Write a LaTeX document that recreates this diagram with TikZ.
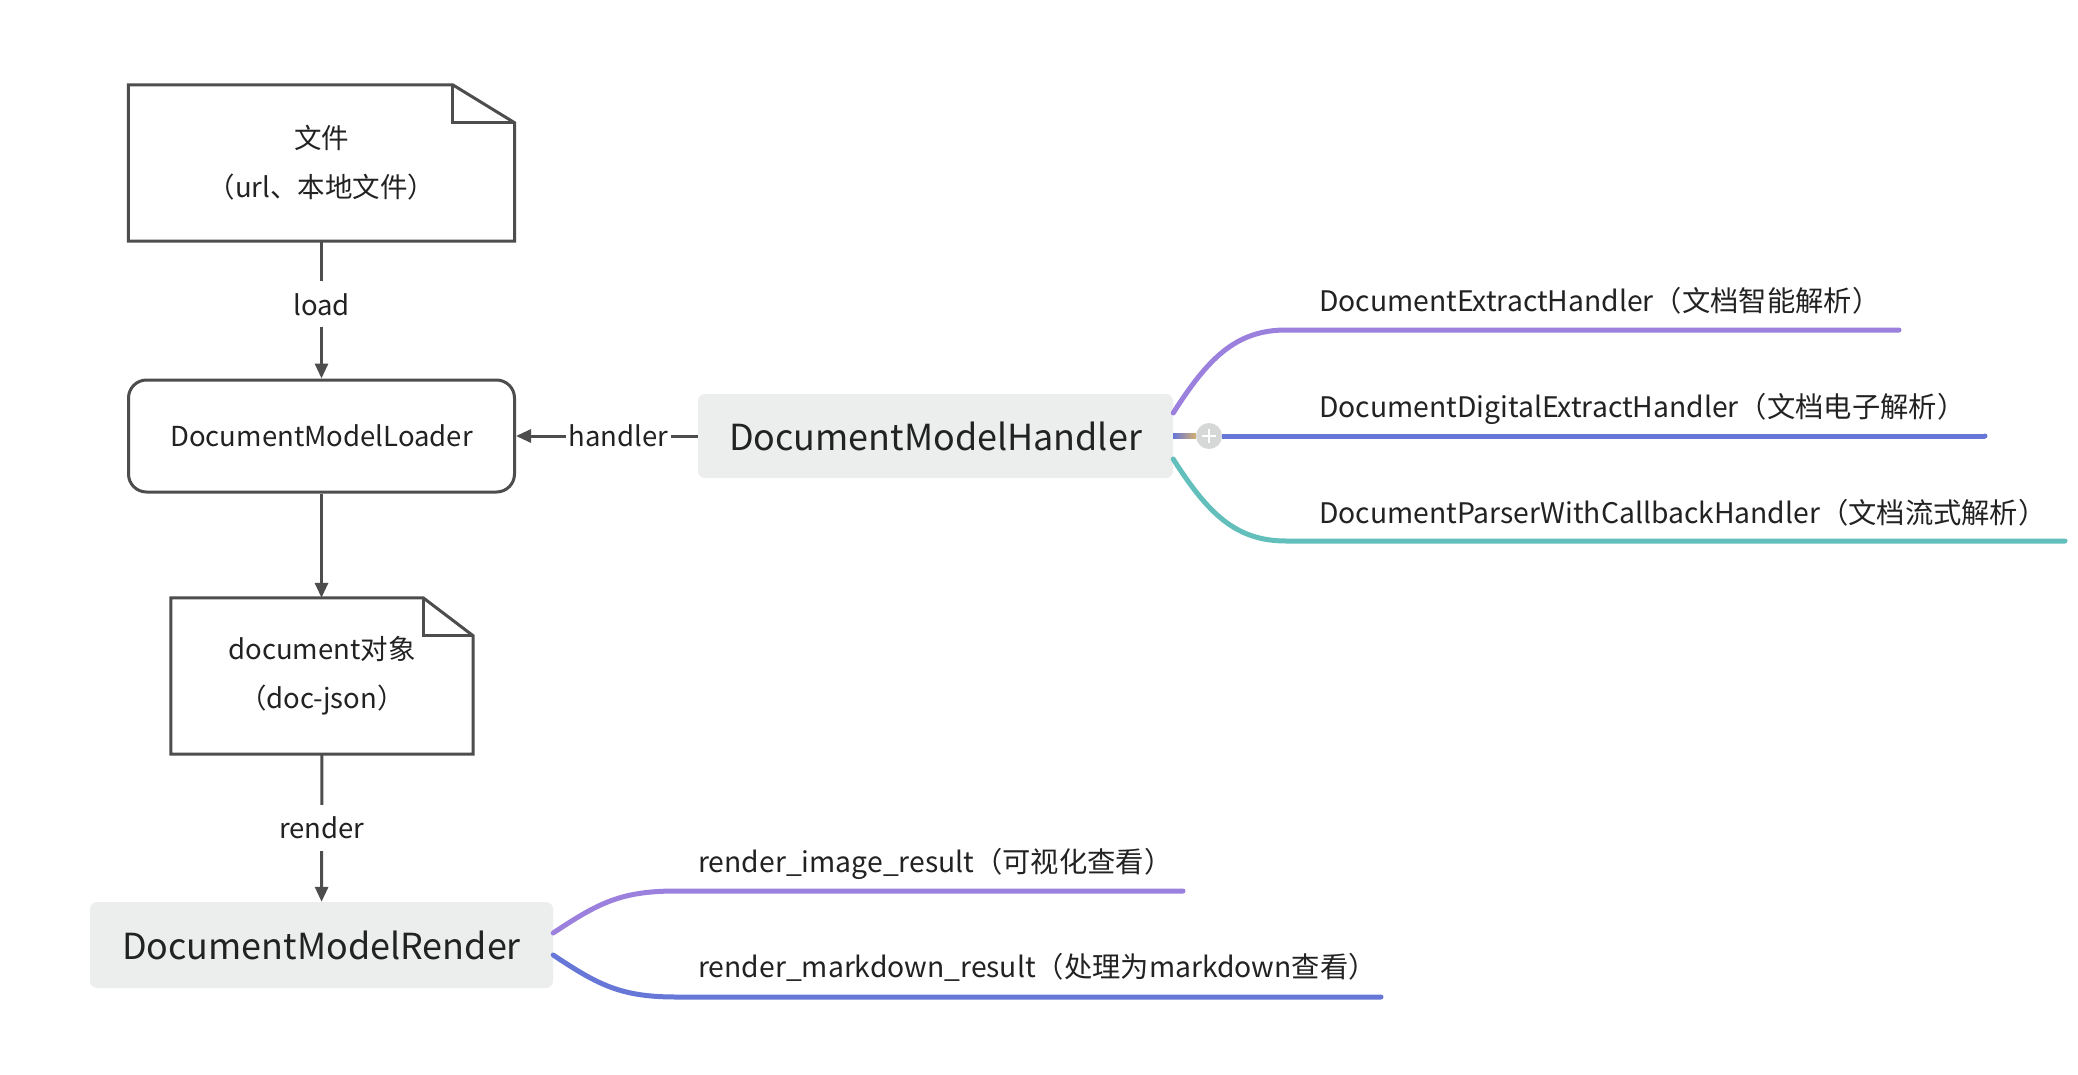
\documentclass[tikz,border=0pt]{standalone}
\usepackage{fontspec}
\setmainfont{Noto Sans CJK SC}
\usetikzlibrary{arrows.meta,calc}
\definecolor{lineg}{HTML}{4D4D4D}
\definecolor{boxg}{HTML}{ECEEED}
\definecolor{cpur}{HTML}{9B80DD}
\definecolor{cblu}{HTML}{6677D8}
\definecolor{cteal}{HTML}{62BFBB}
\definecolor{ctan}{HTML}{D4AE72}
\definecolor{plusg}{HTML}{D5D8D7}
\definecolor{txtc}{HTML}{222222}
\begin{document}
\begin{tikzpicture}[x=1pt,y=-1pt,
  txt/.style={font=\fontsize{27.5}{49}\selectfont, text=txtc},
  brtxt/.style={font=\fontsize{28.3}{34}\selectfont, text=txtc},
  bigtxt/.style={font=\fontsize{35.9}{42}\selectfont, text=txtc},
  docbox/.style={txt, inner sep=0pt, align=center},
  outl/.style={draw=lineg, line width=3pt, line join=miter},
  conn/.style={draw=lineg, line width=3pt, -{Triangle[length=15pt,width=13pt]}},
  lbl/.style={txt, fill=white, inner xsep=3pt, inner ysep=12pt},
  mapnode/.style={bigtxt, fill=boxg, rounded corners=7pt, inner sep=0pt},
  br/.style={line width=5pt, line cap=round},
  brlbl/.style={brtxt, anchor=base west, inner sep=0pt}]
\useasboundingbox[fill=white] (0,0) rectangle (2078,1074);

% file document
\node[docbox, minimum width=386pt, minimum height=156pt] (file) at (321.5,163) {文件\\（url、本地文件）};
\draw[outl] (file.north west) -- ($(file.north east)+(-62,0)$) -- ($(file.north east)+(0,38)$) -- (file.south east) -- (file.south west) -- cycle;
\draw[outl] ($(file.north east)+(-62,0)$) -- ++(0,38) -- ($(file.north east)+(0,38)$);

% loader
\node[txt, draw=lineg, line width=3pt, rounded corners=18pt, minimum width=386pt, minimum height=112pt, inner sep=0pt] (loader) at (321.5,436) {DocumentModelLoader};

% document object
\node[docbox, minimum width=302pt, minimum height=156pt] (doc) at (322,676) {document对象\\（doc-json）};
\draw[outl] (doc.north west) -- ($(doc.north east)+(-50,0)$) -- ($(doc.north east)+(0,38)$) -- (doc.south east) -- (doc.south west) -- cycle;
\draw[outl] ($(doc.north east)+(-50,0)$) -- ++(0,38) -- ($(doc.north east)+(0,38)$);

% render node
\node[mapnode, minimum width=463pt, minimum height=86pt] (render) at (321.5,945) {DocumentModelRender};

% handler node
\node[mapnode, minimum width=475pt, minimum height=84pt] (handler) at (935.5,436) {DocumentModelHandler};

% connectors
\draw[conn] (file) -- (loader) node[lbl, pos=0.46] (lload) {load};
\draw[conn] (handler) -- (loader) node[lbl, pos=0.436] (lhandler) {handler};
\draw[conn] (loader.south) -- (loader.south |- doc.north);
\draw[conn] (doc) -- (render) node[lbl, midway] (lrender) {render};

% handler branches
\coordinate (h1a) at (1286,330);
\coordinate (h1b) at (1899,330);
\coordinate (h2b) at (1985,436);
\coordinate (h3a) at (1286,541);
\coordinate (h3b) at (2065,541);
\draw[br, cpur] ($(handler.east)+(0,-23)$) .. controls +(35,-55) and +(-50,0) .. (h1a) -- (h1b);
\draw[br, cteal] ($(handler.east)+(0,23)$) .. controls +(35,55) and +(-50,0) .. (h3a) -- (h3b);
\node[circle, fill=plusg, minimum size=26pt, inner sep=0pt] (plus) at (1209,436) {};
\shade[left color=cblu, right color=ctan] ($(handler.east)+(0,-2.5)$) rectangle ($(plus.west)+(0,2.5)$);
\draw[br, cblu, line cap=butt] (plus.east) -- (h2b);
\fill[cblu] (h2b) circle (2.5pt);
\draw[white, line width=2.5pt] ($(plus.center)+(-7,0)$) -- ($(plus.center)+(7,0)$);
\draw[white, line width=2.5pt] ($(plus.center)+(0,-7)$) -- ($(plus.center)+(0,7)$);

\node[brlbl] (t1) at (1319,311) {DocumentExtractHandler（文档智能解析）};
\node[brlbl] (t2) at (1319,417) {DocumentDigitalExtractHandler（文档电子解析）};
\node[brlbl] (t3) at (1319,523) {DocumentParserWithCallbackHandler（文档流式解析）};

% render branches
\coordinate (r1a) at (676,891);
\coordinate (r1b) at (1183,891);
\coordinate (r2a) at (676,997);
\coordinate (r2b) at (1381,997);
\draw[br, cpur] ($(render.east)+(0,-12)$) .. controls +(45,-30) and +(-55,0) .. (r1a) -- (r1b);
\draw[br, cblu] ($(render.east)+(0,10)$) .. controls +(45,30) and +(-55,0) .. (r2a) -- (r2b);
\node[brlbl] (t4) at (698,872) {render\_image\_result（可视化查看）};
\node[brlbl] (t5) at (698,977) {render\_markdown\_result（处理为markdown查看）};
\end{tikzpicture}
\end{document}
